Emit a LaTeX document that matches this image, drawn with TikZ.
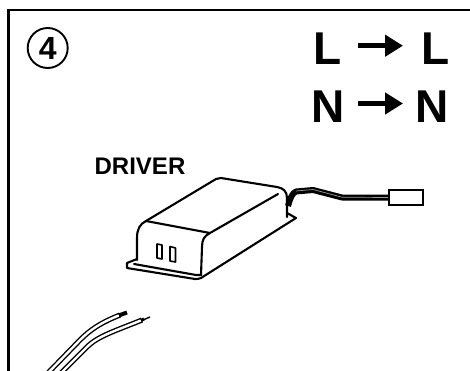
\documentclass[tikz,border=0pt]{standalone}
\usepackage{fontspec}
\setmainfont{Liberation Sans}
\usetikzlibrary{arrows.meta}
\tikzset{
  big/.style={font=\bfseries\fontsize{46}{46}\selectfont,inner sep=0pt,anchor=base},
  lbl/.style={font=\bfseries\fontsize{24}{24}\selectfont,inner sep=0pt,anchor=base},
  ln/.style={line width=2.1pt,line join=round,line cap=round},
  arr/.style={line width=5pt,-{Triangle[length=18pt,width=21pt]}},
  wireo/.style={line width=5.2pt},
  wirei/.style={line width=2.4pt,white},
}
\begin{document}
\begin{tikzpicture}[x=1pt,y=-1pt]
\useasboundingbox (0,0) rectangle (470,371);
\draw[line width=2.2pt] (8.5,371) -- (8.5,10) -- (470,10);
% badge
\node[circle,draw,line width=1.9pt,minimum size=40pt,inner sep=0pt] (badge) at (47.7,48) {};
\node[inner sep=0pt,font=\bfseries\fontsize{32}{32}\selectfont] (four) at (47.7,48) {4};
% terminals
\node[big] (l1) at (327.5,65) {L};
\node[big] (l2) at (435.5,65) {L};
\node[big] (n1) at (328,122.5) {N};
\node[big] (n2) at (432,122.5) {N};
\coordinate (a1s) at (358,45.7); \coordinate (a1e) at (403,45.7);
\coordinate (a2s) at (358,103.5); \coordinate (a2e) at (403,103.5);
\draw[arr] (a1s) -- (a1e);
\draw[arr] (a2s) -- (a2e);
\node[lbl] (drv) at (140,175) {DRIVER};
% driver body
\draw[ln] (127,263) -- (137,259);
\draw[ln] (137,260) -- (137,238) .. controls (137,229) and (140,224) .. (146,221)
  -- (216,179) .. controls (218,178) and (219,178) .. (221,178) -- (277,187)
  .. controls (283,188) and (287,191) .. (287,198) -- (287,217);
\draw[ln] (146,221) -- (210,233) .. controls (204,236) and (202,240) .. (202,247) -- (201,275);
\draw[ln] (210,233) -- (278,194);
\draw[ln] (127,263) -- (127,268) -- (195,279) .. controls (197,279) and (199,279) .. (201,278)
  -- (296,218) -- (287,213);
\draw[ln] (134,264) -- (196,275) -- (201,275);
\draw[line width=1.6pt,line join=round] (157,244) -- (162,245) -- (162,259) -- (157,258) -- cycle;
\draw[line width=1.6pt,line join=round] (170,246.5) -- (175.5,248) -- (175.5,262) -- (170,261) -- cycle;
% cable
\node[draw,line width=2pt,fill=white,minimum width=34pt,minimum height=15pt,inner sep=0pt] (plug) at (406,197.5) {};
\coordinate (c0) at (288,206);
\draw[line width=6pt,line join=round] (c0) .. controls (290,199) and (292,193) .. (296,191.5)
  -- (313,190) -- (342,197.5) -- (plug.west);
\draw[line width=.7pt,white!60!black] (296,191) -- (313,189.5) -- (342,197.2) -- (plug.west);
% wires
\begin{scope}
\clip (0,0) rectangle (470,371);
\draw[wireo] (120,315) .. controls (100,323) and (90,330) .. (80,340) -- (47,374);
\draw[wirei] (119,315.4) .. controls (100,323) and (90,330) .. (80,340) -- (47,374);
\draw[wireo] (142,320) .. controls (115,331) and (98,336) .. (87,347) -- (60,374);
\draw[wirei] (141,320.4) .. controls (115,331) and (98,336) .. (87,347) -- (60,374);
\end{scope}
\draw[line width=4pt] (119,315.4) -- (127,312.5);
\draw[line width=3pt] (141,320.4) -- (144,319);
\draw[line width=1.4pt] (143,320) -- (150,317);
\end{tikzpicture}
\end{document}
